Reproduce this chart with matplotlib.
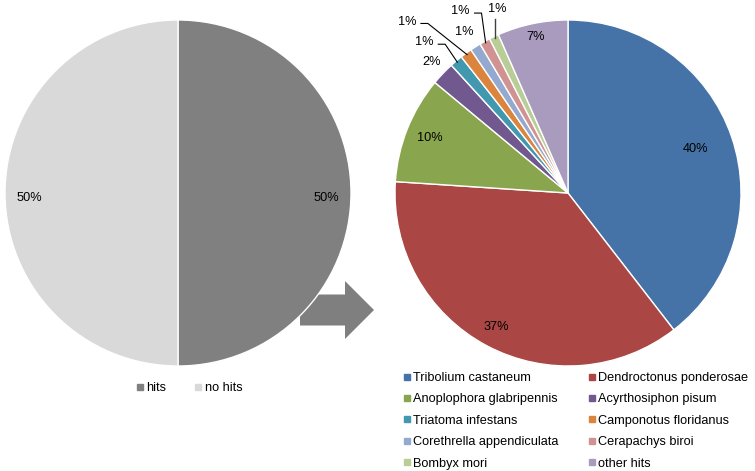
import numpy as np
import matplotlib
matplotlib.use("Agg")
import matplotlib.pyplot as plt
from matplotlib.patches import FancyArrow
from matplotlib.lines import Line2D

plt.rcParams["font.family"] = ["Liberation Sans", "DejaVu Sans"]

# overview pie
hit_labels = ["hits", "no hits"]
hit_values = [50, 50]
hit_colors = ["#808080", "#d9d9d9"]

# breakdown of hits by species
species = ["Tribolium castaneum", "Dendroctonus ponderosae", "Anoplophora glabripennis",
           "Acyrthosiphon pisum", "Triatoma infestans", "Camponotus floridanus",
           "Corethrella appendiculata", "Cerapachys biroi", "Bombyx mori", "other hits"]
species_pct = [39.6, 36.6, 10.0, 2.2, 1.2, 1.1, 1.0, 1.0, 0.9, 6.6]
species_colors = ["#4573a7", "#aa4643", "#89a54e", "#71588f", "#4198af",
                  "#db843d", "#93a9cf", "#d19392", "#b9cd96", "#a99bbd"]

# label placement (pie data units) for the small slices, and which get leader lines
small_pos = {3: (-0.79, 0.76), 4: (-0.83, 0.87), 5: (-0.93, 0.99),
             6: (-0.60, 0.93), 7: (-0.62, 1.05), 8: (-0.41, 1.065)}
big_dist = {0: 0.78, 1: 0.88, 2: 0.86, 9: 0.92}
leaders = [4, 5, 7, 8]

W, H = 755, 471
fig = plt.figure(figsize=(W / 100, H / 100), dpi=100)

# arrow behind the pies
bg = fig.add_axes([0, 0, 1, 1])
bg.set_xlim(0, W); bg.set_ylim(H, 0); bg.axis("off")
bg.add_patch(FancyArrow(300, 310, 74, 0, width=31, head_width=58, head_length=29,
                        length_includes_head=True, color="#7f7f7f", lw=0))


def pie_axes(cx, cy, r):
    return fig.add_axes([(cx - r) / W, (H - cy - r) / H, 2 * r / W, 2 * r / H])


def finish(ax):
    ax.set_xlim(-1, 1); ax.set_ylim(-1, 1); ax.axis("off")


FS = 9.2
axl = pie_axes(178, 193, 173)
wl, tl = axl.pie(hit_values, colors=hit_colors, startangle=90, counterclock=False,
                 radius=1, wedgeprops=dict(edgecolor="white", linewidth=1))
finish(axl)
for w, v in zip(wl, hit_values):
    th = np.deg2rad((w.theta1 + w.theta2) / 2)
    axl.text(0.86 * np.cos(th), 0.86 * np.sin(th) - 0.03, f"{v}%", ha="center",
             va="center", fontsize=FS)

axr = pie_axes(568, 193, 173)
wr, tr = axr.pie(species_pct, colors=species_colors, startangle=90, counterclock=False,
                 radius=1, wedgeprops=dict(edgecolor="white", linewidth=1))
finish(axr)
tot = sum(species_pct)
for i, (w, v) in enumerate(zip(wr, species_pct)):
    lab = f"{round(v / tot * 100):.0f}%"
    th = np.deg2rad((w.theta1 + w.theta2) / 2)
    if i in small_pos:
        x, y = small_pos[i]
        axr.text(x, y, lab, ha="center", va="center", fontsize=FS)
        if i in leaders:
            ex, ey = 0.99 * np.cos(th), 0.99 * np.sin(th)
            if abs(ex - x) < 0.04:
                axr.plot([ex, ex], [y - 0.06, ey], color="#404040", lw=1, clip_on=False)
            else:
                x0 = x + 0.08
                axr.plot([x0, x0 + 0.04, ex], [y - 0.01, y - 0.01, ey], color="black",
                         lw=0.8, clip_on=False)
    else:
        d = big_dist[i]
        axr.text(d * np.cos(th), d * np.sin(th), lab, ha="center", va="center", fontsize=FS)

sq = dict(marker="s", linestyle="none", markersize=4.5)
hl = [Line2D([], [], color=c, **sq) for c in hit_colors]
fig.legend(hl, hit_labels, loc="center left", bbox_to_anchor=(136 / W, 1 - 388 / H),
           ncol=2, frameon=False, fontsize=FS, handlelength=0.6, handletextpad=0.2,
           columnspacing=2.2, borderpad=0, borderaxespad=0)

order = [0, 2, 4, 6, 8, 1, 3, 5, 7, 9]
hr = [Line2D([], [], color=species_colors[k], **sq) for k in order]
fig.legend(hr, [species[k] for k in order], loc="upper left",
           bbox_to_anchor=(403 / W, 1 - 372 / H), ncol=2, frameon=False, fontsize=FS,
           handlelength=0.6, handletextpad=0.2, columnspacing=2.3, labelspacing=0.74,
           borderpad=0, borderaxespad=0)

fig.savefig("out.png", dpi=100)
